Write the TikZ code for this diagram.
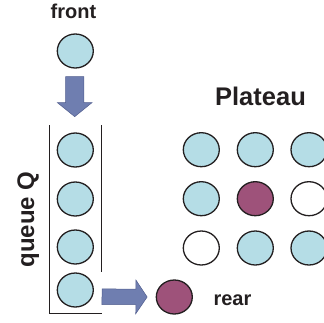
\documentclass[tikz,border=0pt]{standalone}
\usepackage{fontspec}
\setmainfont{Liberation Sans}
\usetikzlibrary{calc,shapes.geometric}

\definecolor{ballblue}{RGB}{181,221,230}
\definecolor{ballplum}{RGB}{158,82,122}
\definecolor{ink}{RGB}{35,31,32}
\definecolor{arrowfill}{RGB}{111,126,176}
\definecolor{arrowedge}{RGB}{82,94,142}

% block arrow from #1 to the tip #2: shaft half width #3, head half width #4, head length #5
\newcommand\blockarrow[5]{%
  \coordinate (ba-h) at ($(#2)!#5!(#1)$);
  \filldraw[fill=arrowfill, draw=arrowedge, line width=0.5pt, line join=miter]
    ($(#1)!#3!90:(#2)$) -- ($(ba-h)!#3!-90:(#1)$) -- ($(ba-h)!#4!-90:(#1)$) --
    (#2) -- ($(ba-h)!#4!90:(#1)$) -- ($(ba-h)!#3!90:(#1)$) --
    ($(#1)!#3!-90:(#2)$) -- cycle;
}

\begin{document}
\begin{tikzpicture}[x=1pt, y=-1pt,
  ball/.style={ellipse, draw=ink, line width=1.3pt, minimum width=36pt,
               minimum height=34pt, inner sep=0pt},
  cyanball/.style={ball, fill=ballblue},
  plumball/.style={ball, fill=ballplum},
  emptyball/.style={ball, fill=white},
  wall/.style={draw=ink, line width=1.2pt},
  caption/.style={text=ink, font=\bfseries, anchor=base, inner sep=0pt}]

\useasboundingbox (0,0) rectangle (324,322);

% captions
\node[caption, font=\bfseries\fontsize{20}{24}\selectfont] (frontlbl) at (73.5,18.3) {front};
\node[caption, font=\bfseries\fontsize{25.5}{30}\selectfont] (plateaulbl) at (260.5,105) {Plateau};
\node[caption, font=\bfseries\fontsize{20}{24}\selectfont] (rearlbl) at (232.5,305) {rear};
\node[caption, font=\bfseries\fontsize{24}{28}\selectfont, rotate=90] (queuelbl) at (34.2,219.5) {queue Q};

% element waiting at the front
\node[cyanball] (front) at (75.3,51) {};

% queue Q and its walls
\node[cyanball] (q1) at (75.3,150) {};
\node[cyanball] (q2) at (75.3,199) {};
\node[cyanball] (q3) at (75.3,247) {};
\node[cyanball] (q4) at (75.3,290) {};
\coordinate (wl-top) at (49.3,125);
\coordinate (wl-bot) at (49.3,313.3);
\coordinate (wr-bot) at (101.7,313.3);
\coordinate (wr-top) at (101.7,125);
\coordinate (wr-end) at (101.7,271.7);
\draw[wall] (wl-top) -- (wl-bot) -- (wr-bot);
\draw[wall] (wr-top) -- (wr-end);

% element leaving at the rear
\node[plumball] (rear) at (174.3,297) {};

% plateau grid
\node[cyanball]  (p11) at (201.3,149.7) {};
\node[cyanball]  (p12) at (255.3,149.7) {};
\node[cyanball]  (p13) at (309,149.7) {};
\node[cyanball]  (p21) at (201.3,198.7) {};
\node[plumball]  (p22) at (255.3,198.7) {};
\node[emptyball] (p23) at (309,198.7) {};
\node[emptyball] (p31) at (201.3,248) {};
\node[cyanball]  (p32) at (255.3,248) {};
\node[cyanball]  (p33) at (309,248) {};

% block arrows
\coordinate (in-from) at ($(front.south)+(-0.6,8)$);
\coordinate (in-to) at ($(q1.north)+(-0.6,-15.7)$);
\blockarrow{in-from}{in-to}{9.2pt}{17.3pt}{14pt}

\coordinate (out-from) at (102,296.7);
\coordinate (out-to) at ($(rear.west)+(-8.5,0)$);
\blockarrow{out-from}{out-to}{7.8pt}{16.8pt}{11.3pt}

\end{tikzpicture}
\end{document}
